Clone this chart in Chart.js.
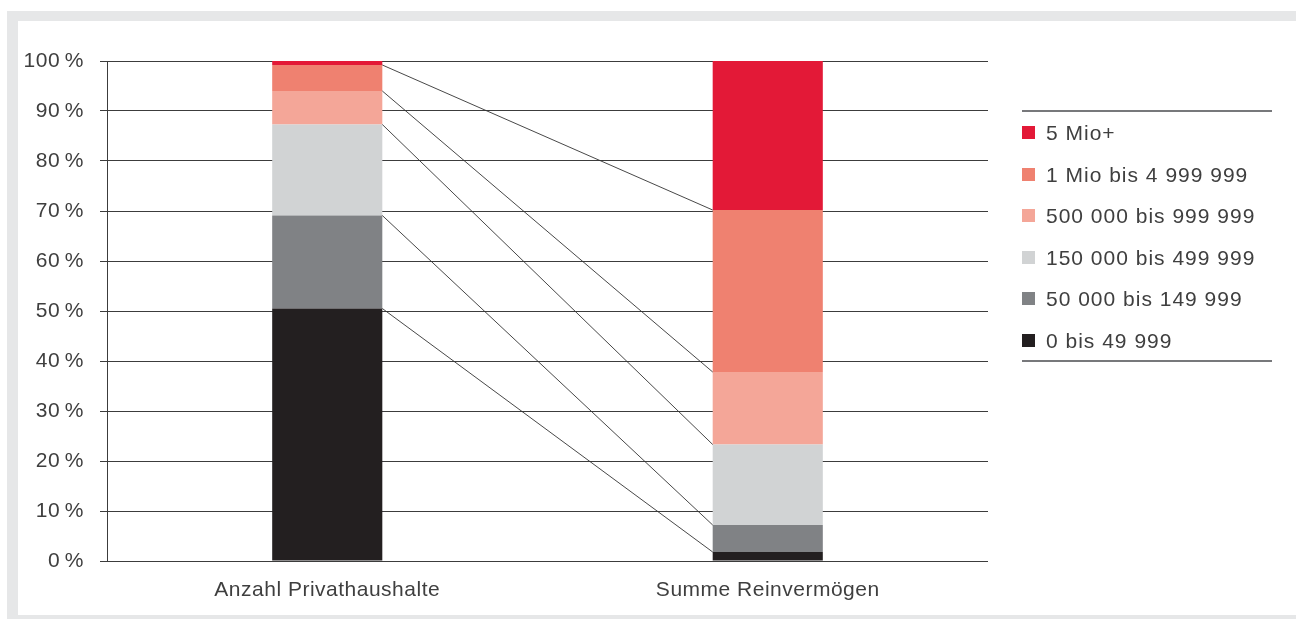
<!DOCTYPE html>
<html lang="de">
<head>
<meta charset="utf-8">
<title>Verteilung Privathaushalte und Reinvermögen</title>
<script src="https://cdn.jsdelivr.net/npm/chart.js@4/dist/chart.umd.min.js"></script>
<style>
  html, body { margin: 0; padding: 0; background: #ffffff; overflow: hidden; }
  body { width: 1296px; height: 619px; position: relative; font-family: "Liberation Sans", Arial, sans-serif; }
  .frame {
    position: absolute; left: 7px; top: 11px; width: 1320px; height: 614px;
    box-sizing: border-box; border: 10px solid #e6e7e8; border-left-width: 11px; border-right: none;
  }
  #chart { position: absolute; left: 0; top: 0; }
  .legend {
    position: absolute; left: 1022px; top: 110px; width: 250px; height: 252px;
    border-top: 2px solid #77787b; border-bottom: 2px solid #77787b; box-sizing: border-box;
  }
  .legend .item {
    position: absolute; left: 0; height: 24px; line-height: 24px;
    font-size: 21px; color: #3f3f3f; white-space: nowrap; letter-spacing: 1px;
  }
  .legend .swatch {
    display: inline-block; width: 13px; height: 13px; vertical-align: middle;
    margin-right: 11px; position: relative; top: -2px;
  }
</style>
</head>
<body>
<div class="frame"></div>
<canvas id="chart" width="1296" height="619"></canvas>
<div class="legend" id="legend"></div>
<script>
// Categories on the x axis
const categories = ['Anzahl Privathaushalte', 'Summe Reinvermögen'];

// Wealth brackets (bottom of the stack first)
const seriesLabels = [
  '0 bis 49 999',
  '50 000 bis 149 999',
  '150 000 bis 499 999',
  '500 000 bis 999 999',
  '1 Mio bis 4 999 999',
  '5 Mio+'
];

// Share in percent: [Anzahl Privathaushalte, Summe Reinvermögen]
const bracket0to49k   = [50.5, 1.8];
const bracket50to149k = [18.6, 5.4];
const bracket150to499k = [18.2, 16.1];
const bracket500to999k = [6.7, 14.5];
const bracket1to5Mio  = [5.2, 32.4];
const bracket5MioPlus = [0.8, 29.8];

// Y axis tick values
const yTicks = [0, 10, 20, 30, 40, 50, 60, 70, 80, 90, 100];

const seriesValues = [bracket0to49k, bracket50to149k, bracket150to499k, bracket500to999k, bracket1to5Mio, bracket5MioPlus];
const seriesColors = ['#231f20', '#808285', '#d1d3d4', '#f4a698', '#ef8170', '#e31937'];

const FONT = '"Liberation Sans", Arial, sans-serif';
const INK = '#3f3f3f';
const RULE = '#3c3c3c';

// Slightly wider text tracking on the canvas
const trackingPlugin = {
  id: 'tracking',
  beforeLayout(chart) { chart.ctx.letterSpacing = '0.5px'; },
  beforeDraw(chart) { chart.ctx.letterSpacing = '0.5px'; }
};

// Thin lines joining the segment boundaries of the two stacks
const connectorPlugin = {
  id: 'connectors',
  afterDatasetsDraw(chart) {
    const ctx = chart.ctx;
    ctx.save();
    ctx.strokeStyle = '#333333';
    ctx.lineWidth = 0.9;
    for (let i = 0; i < chart.data.datasets.length - 1; i++) {
      const meta = chart.getDatasetMeta(i);
      const a = meta.data[0];
      const b = meta.data[1];
      ctx.beginPath();
      ctx.moveTo(a.x + a.width / 2, a.y);
      ctx.lineTo(b.x - b.width / 2, b.y);
      ctx.stroke();
    }
    ctx.restore();
  }
};

new Chart(document.getElementById('chart'), {
  type: 'bar',
  data: {
    labels: categories,
    datasets: seriesLabels.map((label, i) => ({
      label,
      data: seriesValues[i],
      backgroundColor: seriesColors[i],
      borderWidth: 0,
      barPercentage: 0.5,
      categoryPercentage: 0.5
    }))
  },
  options: {
    responsive: false,
    animation: false,
    devicePixelRatio: 1,
    layout: { padding: { left: 0, right: 308, top: 61, bottom: 0 } },
    plugins: {
      legend: { display: false },
      tooltip: { enabled: false }
    },
    scales: {
      x: {
        stacked: true,
        grid: { display: false },
        border: { display: false },
        ticks: { color: INK, font: { family: FONT, size: 21 }, padding: 9 },
        afterFit(scale) { scale.height = 58; }
      },
      y: {
        stacked: true,
        min: 0,
        max: 100,
        afterBuildTicks(scale) { scale.ticks = yTicks.map(v => ({ value: v })); },
        grid: { color: RULE, lineWidth: 1, tickLength: 7, drawTicks: true },
        border: { display: true, color: RULE, width: 1 },
        ticks: {
          color: INK,
          font: { family: FONT, size: 21 },
          padding: 16,
          callback: v => v + '\u2009%'
        },
        afterFit(scale) { scale.width = 107; }
      }
    }
  },
  plugins: [trackingPlugin, connectorPlugin]
});

// Legend on the right, top entry first
const legend = document.getElementById('legend');
const itemTops = 9;
const itemStep = 41.6;
for (let k = seriesLabels.length - 1, row = 0; k >= 0; k--, row++) {
  const item = document.createElement('div');
  item.className = 'item';
  item.style.top = (itemTops + row * itemStep) + 'px';
  const sw = document.createElement('span');
  sw.className = 'swatch';
  sw.style.background = seriesColors[k];
  item.appendChild(sw);
  item.appendChild(document.createTextNode(seriesLabels[k]));
  legend.appendChild(item);
}
</script>
</body>
</html>
